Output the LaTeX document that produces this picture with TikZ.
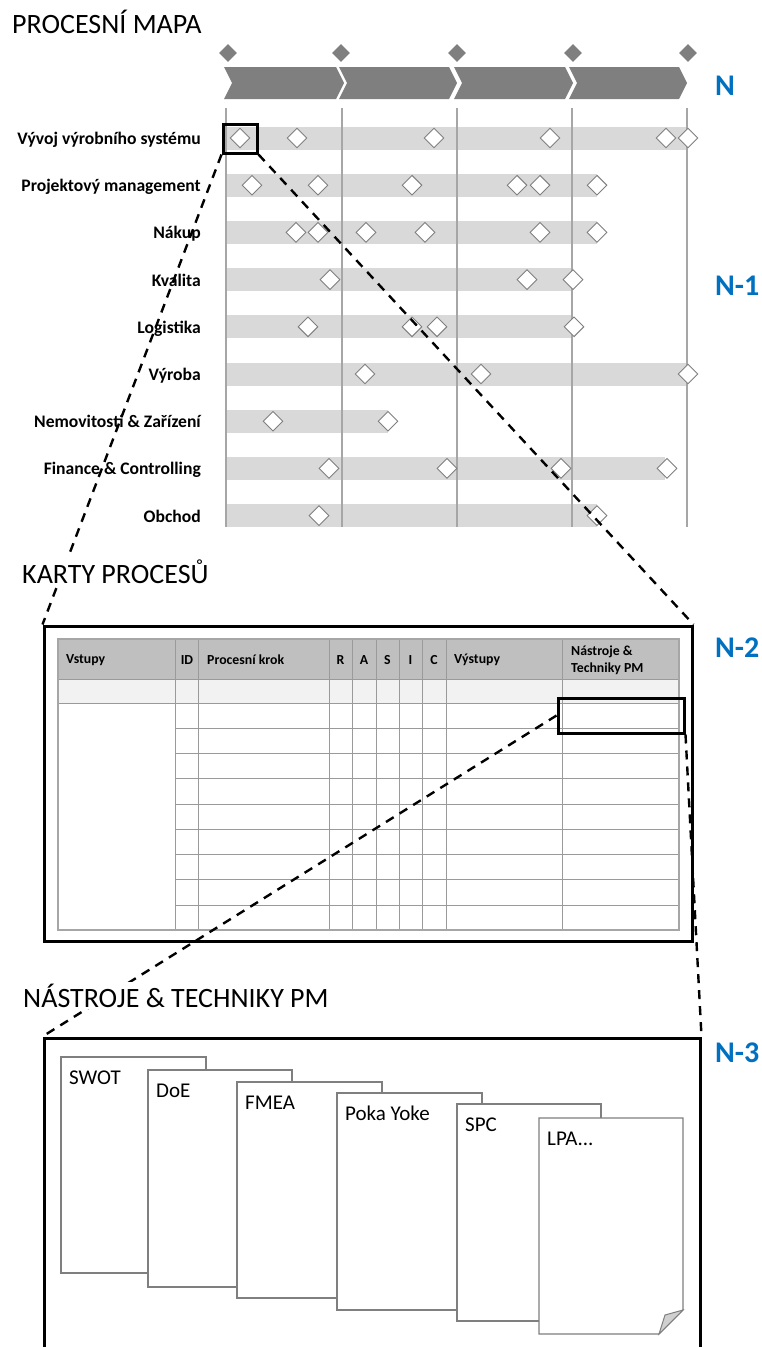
\documentclass[tikz,border=0pt]{standalone}
\usepackage{fontspec}
\setmainfont{Carlito}
\usetikzlibrary{shapes.geometric}
\definecolor{phasegray}{HTML}{7F7F7F}
\definecolor{bandgray}{HTML}{D9D9D9}
\definecolor{gridgray}{HTML}{A6A6A6}
\definecolor{levelblue}{HTML}{0070C0}
\definecolor{headgray}{HTML}{BFBFBF}
\definecolor{rowgray}{HTML}{F2F2F2}
\definecolor{tablegray}{HTML}{9A9A9A}
\definecolor{foldgray}{HTML}{D0D0D0}
\begin{document}
\begin{tikzpicture}[x=1pt,y=-1pt,
  sectiontitle/.style={anchor=base west, inner sep=2pt, fill=white, font=\fontsize{28}{32}\selectfont},
  rowlabel/.style={anchor=base east, inner sep=0pt, font=\bfseries\fontsize{17.6}{20}\selectfont},
  levelmark/.style={anchor=base west, inner sep=0pt, text=levelblue, font=\bfseries\fontsize{30}{33}\selectfont},
  milestone/.style={diamond, fill=phasegray, minimum width=18pt, minimum height=18pt, inner sep=0pt},
  task/.style={diamond, draw=phasegray, fill=white, line width=0.9pt, minimum width=20pt, minimum height=20pt, inner sep=0pt},
  focus/.style={draw=black, line width=3pt, inner sep=0pt},
  boxframe/.style={draw=black, line width=3pt, inner sep=0pt},
  zoomline/.style={black, line width=2.4pt, dash pattern=on 9pt off 7pt},
  headtext/.style={inner sep=0pt, font=\bfseries\fontsize{13.8}{16.5}\selectfont},
  sheet/.style={draw=phasegray, fill=white, line width=1.3pt},
  sheettext/.style={anchor=base west, inner sep=0pt, font=\fontsize{21}{23}\selectfont}]
\useasboundingbox (0,0) rectangle (761,1347);

% ---------- level N: process map ----------
\node[sectiontitle] (t-map) at (10,33) {PROCESNÍ MAPA};

% phase chevrons
\foreach \L/\R in {224/336, 339/449, 454/565, 569/679}
  \fill[phasegray] (\L,67) -- (\R,67) -- ({\R+8},83) -- (\R,99) -- (\L,99) -- ({\L+8},83) -- cycle;
% milestones
\foreach \x [count=\k] in {228,341,457,573,688}
  \node[milestone] (ms\k) at (\x,53) {};
\node[levelmark] (lvN) at (715,95) {N};

% process swimlanes
\foreach \i/\e in {1/687,2/597,3/597,4/572,5/572,6/687,7/388,8/665,9/597}
  \fill[bandgray] (226,{138+47.2*(\i-1)-11.5}) rectangle (\e,{138+47.2*(\i-1)+11.5});
% gate lines
\foreach \x in {226,342,457,572,687}
  \draw[gridgray, line width=1.1pt] (\x,108) -- (\x,527);

% lane labels
\foreach \i/\lab in {1/{Vývoj výrobního systému},2/{Projektový management},3/{Nákup},
    4/{Kvalita},5/{Logistika},6/{Výroba},7/{Nemovitosti \& Zařízení},
    8/{Finance \& Controlling},9/{Obchod}}
  \node[rowlabel] (lab\i) at (201,{138+47.2*(\i-1)+6.5}) {\lab};

% activities
\foreach \i/\ds in {1/{240,297,434,550,666,688},2/{252,318,412,517,540,597},
    3/{296,318,366,425,540,597},4/{330,527,573},5/{308,412,437,574},
    6/{365,481,688},7/{273,388},8/{329,447,561,667},9/{319,597}}
  \foreach \x [count=\k] in \ds
    \node[task] (a\i-\k) at (\x,{138+47.2*(\i-1)}) {};

\node[levelmark] (lvN1) at (715,295) {N-1};
\node[focus, minimum width=34pt, minimum height=29pt] (hl1) at (240,138.5) {};

% ---------- level N-2: process cards ----------
\node[boxframe, minimum width=648pt, minimum height=315pt] (cards) at (368,783.5) {};
\node[levelmark] (lvN2) at (715,657) {N-2};

\fill[headgray] (58,639) rectangle (679,679);
\fill[rowgray] (58,679) rectangle (679,703);
\foreach \y in {728,753,778,804,829,854,879,905}
  \draw[tablegray, line width=0.8pt] (175,\y) -- (679,\y);
\draw[tablegray, line width=0.8pt] (58,679) -- (679,679) (58,703) -- (679,703);
\foreach \x in {175,198,329,352,376,399,422,446,562}
  \draw[tablegray, line width=0.8pt] (\x,639) -- (\x,930);
\draw[gridgray, line width=1.2pt] (58,639) rectangle (679,930);

\node[headtext, anchor=west] (h-in) at (66,660) {Vstupy};
\node[headtext] (h-id) at (187,660) {ID};
\node[headtext, anchor=west] (h-step) at (207,660) {Procesní krok};
\node[headtext] (h-r) at (340.5,660) {R};
\node[headtext] (h-a) at (364,660) {A};
\node[headtext] (h-s) at (387.5,660) {S};
\node[headtext] (h-i) at (410.5,660) {I};
\node[headtext] (h-c) at (434,660) {C};
\node[headtext, anchor=west] (h-out) at (454,660) {Výstupy};
\node[headtext, anchor=west, align=left] (h-tools) at (571,660) {Nástroje \&\\Techniky PM};

\node[focus, minimum width=126pt, minimum height=35pt] (hl2) at (621,715.5) {};

% ---------- level N-3: tools ----------
\node[boxframe, minimum width=656pt, minimum height=322pt] (tools) at (372,1199) {};
\node[levelmark] (lvN3) at (715,1062) {N-3};

\foreach \L/\T/\R/\B in {61/1057/206/1273, 148/1070/292/1287,
    237/1082/382/1298, 337/1093/482/1310, 457/1104/601/1321}
  \draw[sheet] (\L,\T) rectangle (\R,\B);
\draw[sheet] (539,1118) -- (683,1118) -- (683,1310) -- (659,1334) -- (539,1334) -- cycle;
\filldraw[draw=phasegray, fill=foldgray, line width=1pt] (683,1310) -- (659,1334) -- (665,1315) -- cycle;

\node[sheettext] (s1) at (69,1084) {SWOT};
\node[sheettext] (s2) at (156,1097) {DoE};
\node[sheettext] (s3) at (245,1109) {FMEA};
\node[sheettext] (s4) at (345,1120) {Poka Yoke};
\node[sheettext] (s5) at (465,1131) {SPC};
\node[sheettext] (s6) at (547,1145) {LPA...};

% ---------- zoom connectors ----------
\draw[zoomline] (hl1.south west) -- (cards.north west);
\draw[zoomline] (hl1.south east) -- (cards.north east);
\draw[zoomline] (hl2.west) -- (tools.north west);
\draw[zoomline] (hl2.south east) -- (tools.north east);

\node[sectiontitle] (t-cards) at (20,583) {KARTY PROCESŮ};
\node[sectiontitle] (t-tools) at (21,1007) {NÁSTROJE \& TECHNIKY PM};
\end{tikzpicture}
\end{document}
